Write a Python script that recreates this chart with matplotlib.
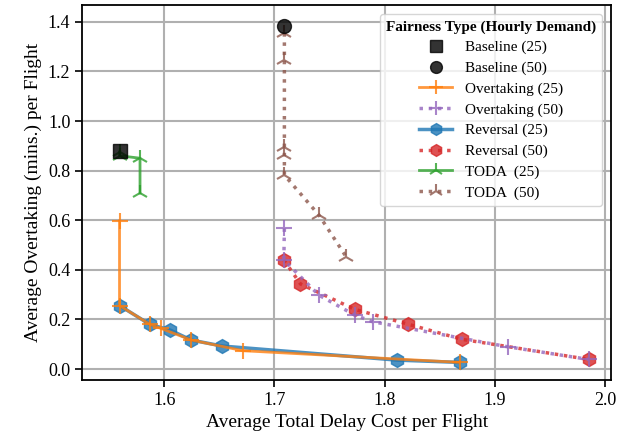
import matplotlib
matplotlib.use("Agg")
import matplotlib.pyplot as plt

plt.rcParams['font.family'] = ['Liberation Serif', 'DejaVu Serif']

# Baseline
base25_x = [1.5594]
base25_y = [0.879]
base50_x = [1.709]
base50_y = [1.383]

# Overtaking
over25_x = [1.5594, 1.5594, 1.587, 1.597, 1.6245, 1.6715, 1.868]
over25_y = [0.597, 0.256, 0.180, 0.164, 0.117, 0.074, 0.027]
over50_x = [1.709, 1.7085, 1.7403, 1.7727, 1.789, 1.9115, 1.985]
over50_y = [0.567, 0.440, 0.298, 0.218, 0.191, 0.090, 0.039]

# Reversal
rev25_x = [1.5594, 1.587, 1.6055, 1.6245, 1.6524, 1.8115, 1.868]
rev25_y = [0.256, 0.180, 0.157, 0.117, 0.093, 0.036, 0.027]
rev50_x = [1.7085, 1.7236, 1.7727, 1.8212, 1.870, 1.985]
rev50_y = [0.440, 0.343, 0.241, 0.181, 0.120, 0.039]

# TODA
toda25_x = [1.5595, 1.5595, 1.578, 1.578]
toda25_y = [0.875, 0.860, 0.850, 0.710]
toda50_x = [1.709, 1.709, 1.709, 1.709, 1.709, 1.7403, 1.765]
toda50_y = [1.354, 1.246, 0.896, 0.863, 0.782, 0.621, 0.453]

fig, ax = plt.subplots(figsize=(6.32, 4.46), dpi=100)
fig.subplots_adjust(left=0.13, right=0.967, top=0.989, bottom=0.148)

ax.plot(base25_x, base25_y, 's', color='black', alpha=0.8, markersize=10, label='Baseline (25)', zorder=5)
ax.plot(base50_x, base50_y, 'o', color='black', alpha=0.8, markersize=10, label='Baseline (50)', zorder=5)
ax.plot(over25_x, over25_y, '-', marker='+', color='tab:orange', alpha=0.8, lw=2, markersize=12,
        mew=1.5, label='Overtaking (25)', zorder=4)
ax.plot(over50_x, over50_y, ':', marker='+', color='tab:purple', alpha=0.8, lw=2.5, markersize=12,
        mew=1.5, label='Overtaking (50)', zorder=4)
ax.plot(rev25_x, rev25_y, '-', marker='h', color='tab:blue', alpha=0.8, lw=2.5, markersize=10,
        label='Reversal (25)', zorder=3)
ax.plot(rev50_x, rev50_y, ':', marker='h', color='tab:red', alpha=0.8, lw=2.5, markersize=10,
        label='Reversal (50)', zorder=3)
ax.plot(toda25_x, toda25_y, '-', marker='2', color='tab:green', alpha=0.8, lw=2, markersize=12,
        mew=1.5, label='TODA  (25)', zorder=4)
ax.plot(toda50_x, toda50_y, ':', marker='2', color='tab:brown', alpha=0.8, lw=2.5, markersize=12,
        mew=1.5, label='TODA  (50)', zorder=4)

ax.set_xlim(1.5255, 2.0055)
ax.set_ylim(-0.044, 1.468)
ax.set_xticks([1.6, 1.7, 1.8, 1.9, 2.0])
ax.set_yticks([0.0, 0.2, 0.4, 0.6, 0.8, 1.0, 1.2, 1.4])
ax.grid(True, color='#b0b0b0', lw=1.5)
ax.set_axisbelow(True)
ax.tick_params(labelsize=13, width=1.2, length=5)
for s in ax.spines.values():
    s.set_linewidth(1.3)

ax.set_xlabel('Average Total Delay Cost per Flight', fontsize=14)
ax.set_ylabel('Average Overtaking (mins.) per Flight', fontsize=14)

leg = ax.legend(loc='upper right', fontsize=11, title='Fairness Type (Hourly Demand)',
                title_fontproperties={'weight': 'bold', 'size': 11}, framealpha=0.8,
                handlelength=2.2, labelspacing=0.45, borderaxespad=0.6, markerscale=0.85)

fig.savefig('out.png', dpi=100)
